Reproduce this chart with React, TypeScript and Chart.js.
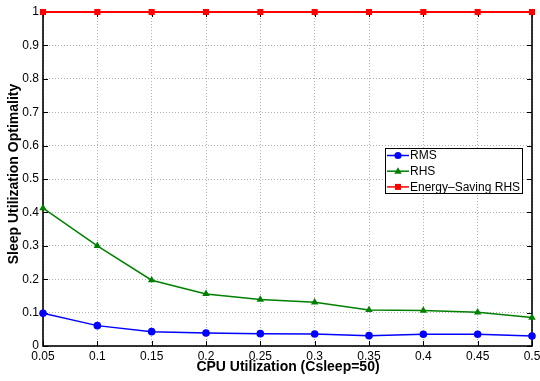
import React, { useEffect, useRef } from "react";
import { Chart, registerables } from "chart.js";

Chart.register(...registerables);

const cpuUtil = [0.05, 0.1, 0.15, 0.2, 0.25, 0.3, 0.35, 0.4, 0.45, 0.5];
const xTickLabels = ["0.05", "0.1", "0.15", "0.2", "0.25", "0.3", "0.35", "0.4", "0.45", "0.5"];
const yTickValues = [0, 0.1, 0.2, 0.3, 0.4, 0.5, 0.6, 0.7, 0.8, 0.9, 1];
const yTickLabels = ["0", "0.1", "0.2", "0.3", "0.4", "0.5", "0.6", "0.7", "0.8", "0.9", "1"];

const rms = [0.098, 0.061, 0.043, 0.039, 0.037, 0.036, 0.031, 0.035, 0.035, 0.03];
const rhs = [0.413, 0.3, 0.197, 0.156, 0.139, 0.131, 0.108, 0.106, 0.101, 0.085];
const energySavingRhs = [1, 1, 1, 1, 1, 1, 1, 1, 1, 1];

const seriesNames = ["RMS", "RHS", "Energy\u2013Saving RHS"];
const seriesColors = ["#0000ff", "#008000", "#ff0000"];
const seriesMarkers = ["circle", "triangle", "rect"];
const xTitle = "CPU Utilization (Csleep=50)";
const yTitle = "Sleep Utilization Optimality";

const FONT = "'Liberation Sans', Arial, Helvetica, sans-serif";

const framePlugin = {
  id: "frame",
  beforeDatasetsDraw(chart: any) {
    const { ctx, chartArea } = chart;
    const { left, right, top, bottom } = chartArea;
    const xs = chart.scales.x;
    const ys = chart.scales.y;
    ctx.save();
    ctx.strokeStyle = "#000";
    ctx.lineWidth = 1;
    ctx.beginPath();
    yTickValues.forEach((v) => {
      const y = Math.round(ys.getPixelForValue(v)) + 0.5;
      ctx.moveTo(left, y);
      ctx.lineTo(left + 5, y);
      ctx.moveTo(right, y);
      ctx.lineTo(right - 5, y);
    });
    cpuUtil.forEach((v) => {
      const x = Math.round(xs.getPixelForValue(v)) + 0.5;
      ctx.moveTo(x, bottom);
      ctx.lineTo(x, bottom - 5);
      ctx.moveTo(x, top);
      ctx.lineTo(x, top + 5);
    });
    ctx.stroke();
    ctx.lineWidth = 1.6;
    ctx.strokeRect(left, top, right - left, bottom - top);
    ctx.restore();
  },
  afterDraw(chart: any) {
    const { ctx, chartArea } = chart;
    ctx.save();
    ctx.fillStyle = "#000";
    ctx.font = `bold 14px ${FONT}`;
    ctx.textAlign = "center";
    ctx.textBaseline = "middle";
    ctx.fillText(xTitle, 288, 367);
    ctx.save();
    ctx.translate(14, 174);
    ctx.rotate(-Math.PI / 2);
    ctx.fillText(yTitle, 0, 0);
    ctx.restore();

    // legend
    const lx = 385, ly = 148, lw = 137, lh = 45;
    ctx.fillStyle = "#fff";
    ctx.fillRect(lx, ly, lw, lh);
    ctx.strokeStyle = "#000";
    ctx.lineWidth = 1;
    ctx.strokeRect(lx + 0.5, ly + 0.5, lw, lh);
    ctx.font = `12px ${FONT}`;
    ctx.textAlign = "left";
    seriesNames.forEach((name, i) => {
      const y = ly + 7.5 + i * 15.7;
      ctx.strokeStyle = seriesColors[i];
      ctx.lineWidth = 1.5;
      ctx.beginPath();
      ctx.moveTo(lx + 2, y);
      ctx.lineTo(lx + 24, y);
      ctx.stroke();
      ctx.fillStyle = seriesColors[i];
      const mx = lx + 13;
      if (seriesMarkers[i] === "circle") {
        ctx.beginPath();
        ctx.arc(mx, y, 3.6, 0, Math.PI * 2);
        ctx.fill();
      } else if (seriesMarkers[i] === "triangle") {
        ctx.beginPath();
        ctx.moveTo(mx, y - 4);
        ctx.lineTo(mx + 3.7, y + 2.6);
        ctx.lineTo(mx - 3.7, y + 2.6);
        ctx.closePath();
        ctx.fill();
      } else {
        ctx.fillRect(mx - 3, y - 3, 6, 6);
      }
      ctx.fillStyle = "#000";
      ctx.fillText(name, lx + 25, y + 0.5);
    });
    ctx.restore();
  },
};

export default function App() {
  const ref = useRef<HTMLCanvasElement | null>(null);
  useEffect(() => {
    document.body.style.margin = "0";
    const canvas = ref.current!;
    const mk = (label: string, data: number[], i: number, r: number) => ({
      label,
      data: cpuUtil.map((x, k) => ({ x, y: data[k] })),
      borderColor: seriesColors[i],
      backgroundColor: seriesColors[i],
      borderWidth: 1.5,
      pointStyle: seriesMarkers[i],
      pointRadius: r,
      pointBorderWidth: 0,
      pointBackgroundColor: seriesColors[i],
      tension: 0,
      clip: false as any,
    });
    const chart = new Chart(canvas, {
      type: "line",
      data: {
        datasets: [
          mk(seriesNames[0], rms, 0, 3.8),
          mk(seriesNames[1], rhs, 1, 4.3),
          { ...mk(seriesNames[2], energySavingRhs, 2, 4.3), borderWidth: 2 },
        ],
      },
      plugins: [framePlugin],
      options: {
        responsive: false,
        animation: false,
        layout: { padding: { left: 0, right: 8, top: 12, bottom: 0 } },
        plugins: { legend: { display: false }, tooltip: { enabled: false } },
        scales: {
          x: {
            type: "linear",
            min: 0.05,
            max: 0.5,
            afterBuildTicks: (s: any) => {
              s.ticks = cpuUtil.map((v) => ({ value: v }));
            },
            afterFit: (s: any) => {
              s.height = 35;
              s.paddingLeft = 0;
              s.paddingRight = 0;
            },
            ticks: {
              padding: 3,
              maxRotation: 0,
              autoSkip: false,
              color: "#000",
              font: { family: FONT, size: 12 },
              callback: (_v: any, i: number) => xTickLabels[i],
            },
            grid: {
              drawTicks: false,
              color: "#b0b0b0",
              lineWidth: 1,
            },
            border: { display: false, dash: [1, 2] },
          },
          y: {
            type: "linear",
            min: 0,
            max: 1,
            afterBuildTicks: (s: any) => {
              s.ticks = yTickValues.map((v) => ({ value: v }));
            },
            afterFit: (s: any) => {
              s.width = 43;
              s.paddingTop = 0;
              s.paddingBottom = 0;
            },
            ticks: {
              padding: 4,
              autoSkip: false,
              color: "#000",
              font: { family: FONT, size: 12 },
              callback: (_v: any, i: number) => yTickLabels[i],
            },
            grid: {
              drawTicks: false,
              color: "#b0b0b0",
              lineWidth: 1,
            },
            border: { display: false, dash: [1, 2] },
          },
        },
      } as any,
    });
    return () => chart.destroy();
  }, []);
  return <canvas ref={ref} width={540} height={381} style={{ display: "block" }} />;
}
